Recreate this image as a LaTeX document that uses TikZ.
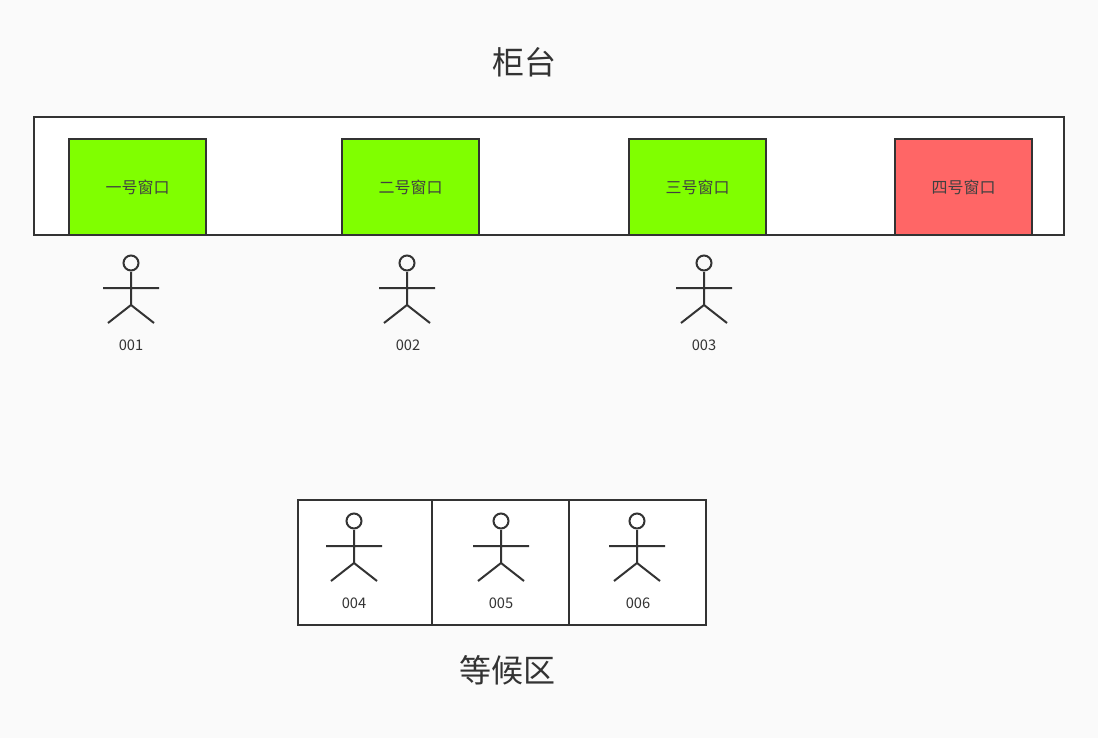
\documentclass[tikz,border=0pt]{standalone}
\usepackage{fontspec}
\setmainfont{Noto Sans CJK SC}
\begin{document}
\begin{tikzpicture}[x=0.75pt,y=-0.75pt,
  ln/.style={draw=black!80,line width=1.5pt},
  win/.style={ln,minimum width=102.75pt,minimum height=72pt,inner sep=0pt,font=\fontsize{12}{14}\selectfont,text=black!75},
  lbl/.style={font=\fontsize{11}{13}\selectfont,text=black!80},
  ttl/.style={font=\fontsize{24}{28}\selectfont,text=black!80}]
\definecolor{grn}{HTML}{80FF00}\definecolor{rd}{HTML}{FF6666}
\fill[black!2] (0,0) rectangle (1098,738);
\useasboundingbox (0,0) rectangle (1098,738);
\node[ttl] (t1) at (524,62) {柜台};
\node[ttl] (t2) at (507,670) {等候区};
\draw[ln,fill=white] (34,117) rectangle (1064,235);
\node[win,fill=grn] (w1) at (137.5,187) {一号窗口};
\node[win,fill=grn] (w2) at (410.5,187) {二号窗口};
\node[win,fill=grn] (w3) at (697.5,187) {三号窗口};
\node[win,fill=rd] (w4) at (963.5,187) {四号窗口};
\draw[ln,fill=white] (298,500) rectangle (706,625);
\draw[ln] (432,500) -- (432,625) (569,500) -- (569,625);
\newcommand{\person}[2]{%
  \draw[ln] (#1,#2) circle (7.5);
  \draw[ln] (#1,#2+9) -- (#1,#2+42) (#1-28,#2+25) -- (#1+28,#2+25)
    (#1-23,#2+60) -- (#1,#2+42) -- (#1+23,#2+60);}
\person{131}{263}\person{407}{263}\person{704}{263}
\person{354}{521}\person{501}{521}\person{637}{521}
\node[lbl] (l1) at (131,345) {001};
\node[lbl] (l2) at (408,345) {002};
\node[lbl] (l3) at (704,345) {003};
\node[lbl] (l4) at (354,603) {004};
\node[lbl] (l5) at (501,603) {005};
\node[lbl] (l6) at (638,603) {006};
\end{tikzpicture}
\end{document}
